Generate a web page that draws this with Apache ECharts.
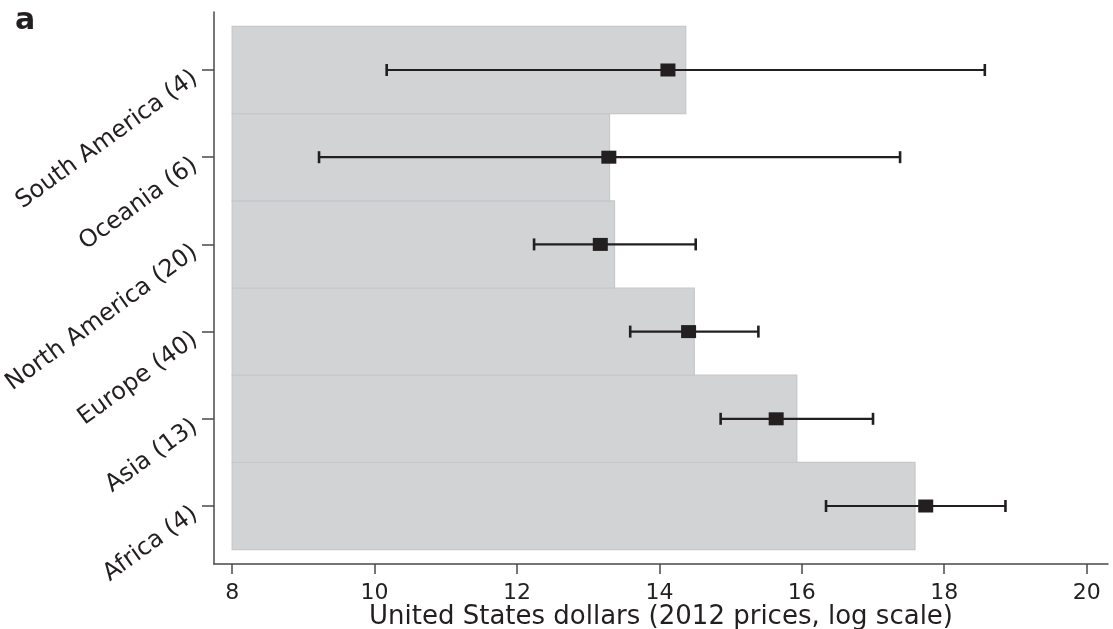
<!DOCTYPE html>
<html>
<head>
<meta charset="utf-8">
<title>Regions</title>
<script src="https://cdn.jsdelivr.net/npm/echarts@6/dist/echarts.min.js"></script>
<style>
  html, body { margin: 0; padding: 0; background: #fff; }
  #main { width: 1113px; height: 629px; }
</style>
</head>
<body>
<div id="main"></div>
<script>
// 各地区（自下而上）
const regions = ['Africa (4)', 'Asia (13)', 'Europe (40)', 'North America (20)', 'Oceania (6)', 'South America (4)'];
// 灰色柱的右端
const barValues = [17.59, 15.93, 14.49, 13.37, 13.30, 14.37];
// 方块标记
const pointValues = [17.74, 15.64, 14.41, 13.17, 13.29, 14.12];
// 误差线两端
const lowValues = [16.34, 14.86, 13.59, 12.24, 9.22, 10.17];
const highValues = [18.86, 17.00, 15.39, 14.51, 17.38, 18.57];
// x 轴刻度
const xTicks = [8, 10, 12, 14, 16, 18, 20];
const barBase = 8;

const yPos = regions.map((r, i) => i + 1);

const barData = barValues.map((v, i) => [barBase, v, yPos[i]]);
const errData = lowValues.map((v, i) => [v, highValues[i], yPos[i]]);
const pointData = pointValues.map((v, i) => [v, yPos[i]]);

const axisColor = '#4a4a4a';
const inkColor = '#231f20';

const options = {
    animation: false,
    title: {
        text: 'a',
        left: 10,
        top: 1,
        textStyle: {
            fontFamily: 'DejaVu Sans',
            fontWeight: 'bold',
            fontSize: 30,
            color: inkColor
        }
    },
    grid: {
        left: 214,
        right: 5,
        top: 12,
        bottom: 65,
        outerBoundsMode: 'none'
    },
    xAxis: {
        type: 'value',
        min: 7.745,
        max: 20.3,
        name: 'United States dollars (2012 prices, log scale)',
        nameLocation: 'middle',
        nameGap: 40,
        nameMoveOverlap: false,
        nameTextStyle: {
            fontFamily: 'DejaVu Sans',
            fontSize: 26,
            color: inkColor
        },
        axisLine: { show: true, lineStyle: { color: axisColor, width: 1.5 } },
        axisTick: { show: true, length: 10, customValues: xTicks, lineStyle: { color: axisColor, width: 1.5 } },
        axisLabel: {
            customValues: xTicks,
            margin: 18,
            fontFamily: 'DejaVu Sans',
            fontSize: 22,
            color: inkColor
        },
        splitLine: { show: false }
    },
    yAxis: {
        type: 'value',
        min: 0.335,
        max: 6.665,
        axisLine: { show: true, lineStyle: { color: axisColor, width: 1.5 } },
        axisTick: { show: true, length: 12, customValues: yPos, lineStyle: { color: axisColor, width: 1.5 } },
        axisLabel: {
            customValues: yPos,
            rotate: 36,
            margin: 23,
            verticalAlign: 'top',
            lineHeight: 14,
            fontFamily: 'DejaVu Sans',
            fontSize: 24,
            color: inkColor,
            formatter: function (v) {
                return regions[Math.round(v) - 1] || '';
            }
        },
        splitLine: { show: false }
    },
    series: [
        {
            name: 'bars',
            type: 'custom',
            data: barData,
            encode: { x: [0, 1], y: 2 },
            renderItem: function (params, api) {
                const p0 = api.coord([api.value(0), api.value(2) + 0.5]);
                const p1 = api.coord([api.value(1), api.value(2) - 0.5]);
                return {
                    type: 'rect',
                    shape: { x: p0[0], y: p0[1], width: p1[0] - p0[0], height: p1[1] - p0[1] },
                    style: { fill: '#d1d3d5', stroke: '#c6c8ca', lineWidth: 1.2 }
                };
            },
            z: 1
        },
        {
            name: 'ci',
            type: 'custom',
            data: errData,
            encode: { x: [0, 1], y: 2 },
            renderItem: function (params, api) {
                const a = api.coord([api.value(0), api.value(2)]);
                const b = api.coord([api.value(1), api.value(2)]);
                const cap = 6;
                const st = { stroke: inkColor, lineWidth: 2.2 };
                return {
                    type: 'group',
                    children: [
                        { type: 'line', shape: { x1: a[0], y1: a[1], x2: b[0], y2: b[1] }, style: st },
                        { type: 'line', shape: { x1: a[0], y1: a[1] - cap, x2: a[0], y2: a[1] + cap }, style: { stroke: inkColor, lineWidth: 2.6 } },
                        { type: 'line', shape: { x1: b[0], y1: b[1] - cap, x2: b[0], y2: b[1] + cap }, style: { stroke: inkColor, lineWidth: 2.6 } }
                    ]
                };
            },
            z: 2
        },
        {
            name: 'points',
            type: 'scatter',
            data: pointData,
            symbol: 'rect',
            symbolSize: [15, 13],
            itemStyle: { color: inkColor, opacity: 1 },
            z: 3
        }
    ]
};

const E = echarts.init(document.getElementById('main'));
window.onresize = function () {
    E.resize();
};
E.setOption(options);
</script>
</body>
</html>
